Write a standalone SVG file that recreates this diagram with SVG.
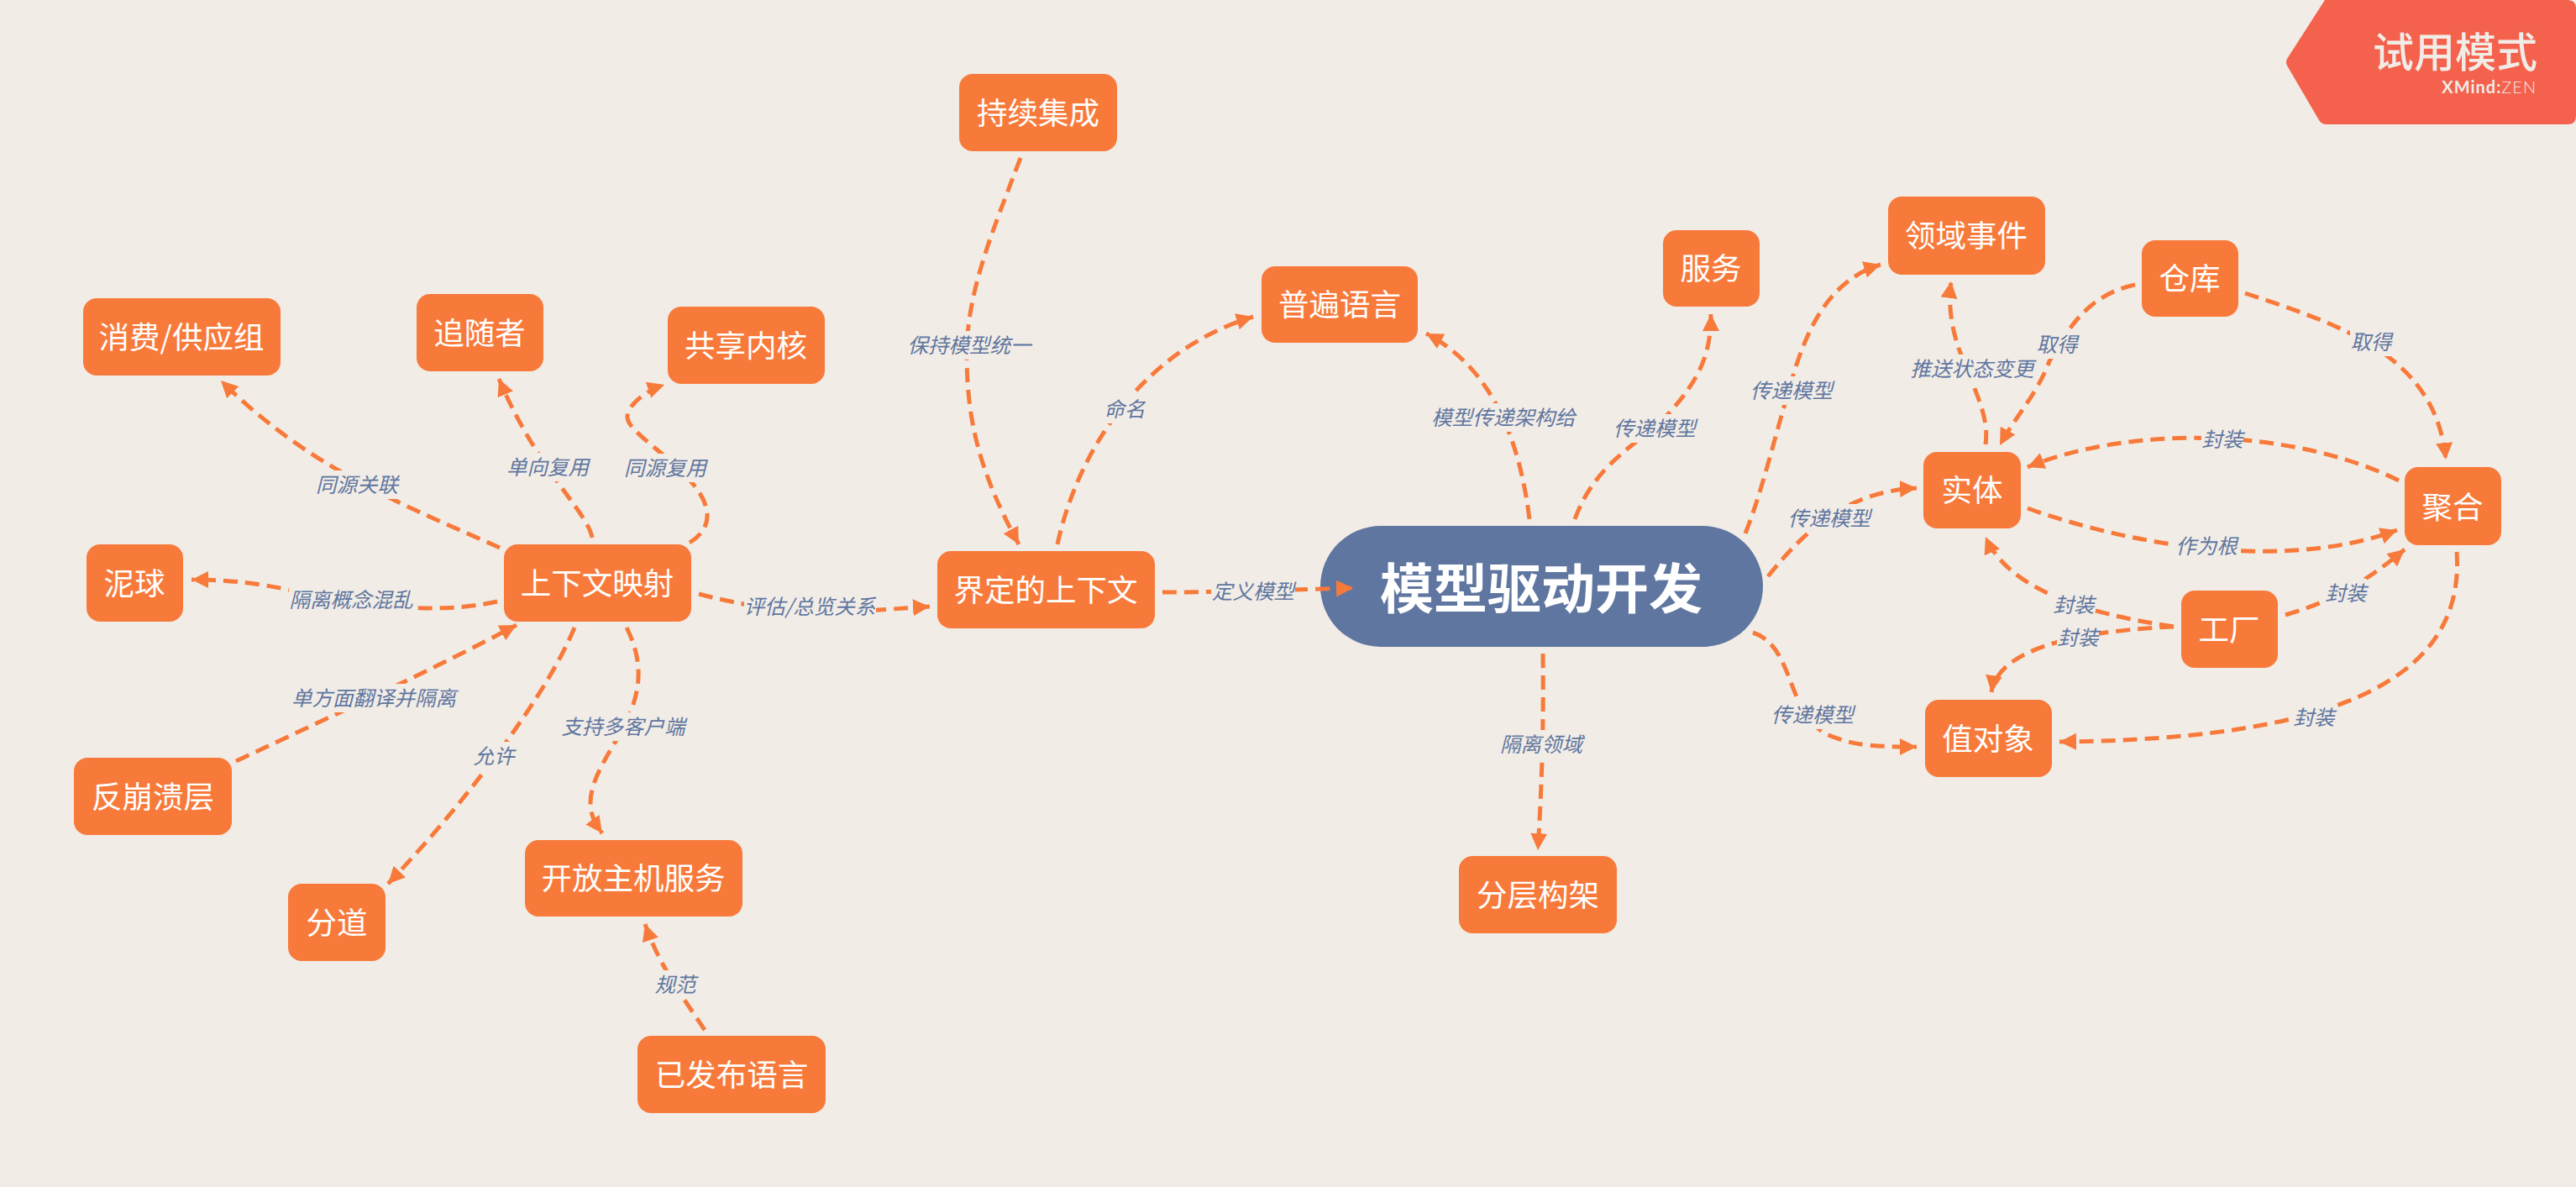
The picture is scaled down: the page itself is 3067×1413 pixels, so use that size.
<svg xmlns="http://www.w3.org/2000/svg" width="3067" height="1413" viewBox="0 0 3067 1413">
<style>
text{font-family:"Noto Sans CJK SC","Noto Sans",sans-serif;text-anchor:middle;dominant-baseline:central}
.n rect{fill:#f87a3b}
.n text{fill:#fff;font-size:36.5px;transform:translateY(-2px)}
.c{fill:none;stroke:#f87a3b;stroke-width:5;stroke-dasharray:17 9;marker-end:url(#a)}
.lb rect{fill:#f1ece6}
.lb text{fill:#5f76a0;font-size:24.5px;font-style:italic;transform:translateY(-2px)}
</style>
<defs><marker id="a" markerUnits="userSpaceOnUse" markerWidth="22" markerHeight="22" refX="20" refY="10" orient="auto"><path d="M0 0L20 10L0 20z" fill="#f87a3b"/></marker></defs>
<rect width="3067" height="1413" fill="#f1ece6"/>
<g id="badge"><path d="M2768 0H3057Q3067 0 3067 10V138Q3067 148 3057 148H2770Q2764 148 2761 143L2723 78Q2721 74 2723 70Z" fill="#f4614d"/>
<text x="2923" y="58" style="font-size:49px;fill:#f1ece6;font-weight:500">试用模式</text>
<text x="3020" y="103" style="font-family:Lato,sans-serif;font-size:20px;letter-spacing:1px;fill:#f1ece6;text-anchor:end"><tspan font-weight="700">XMind:</tspan><tspan font-weight="300">ZEN</tspan></text></g>
<g id="center"><rect x="1572" y="626" width="527" height="144" rx="72" fill="#5f76a0"/><text x="1835" y="696" style="font-size:64px;font-weight:700;fill:#fff">模型驱动开发</text></g>
<g id="n1" class="n"><rect x="1142" y="88" width="188" height="92" rx="16"/><text x="1236" y="134">持续集成</text></g>
<g id="n2" class="n"><rect x="1502" y="317" width="186" height="91" rx="16"/><text x="1595" y="362">普遍语言</text></g>
<g id="n3" class="n"><rect x="1980" y="274" width="115" height="91" rx="16"/><text x="2037" y="319">服务</text></g>
<g id="n4" class="n"><rect x="2248" y="234" width="187" height="93" rx="16"/><text x="2341" y="280">领域事件</text></g>
<g id="n5" class="n"><rect x="2550" y="286" width="115" height="91" rx="16"/><text x="2607" y="331">仓库</text></g>
<g id="n6" class="n"><rect x="2290" y="538" width="116" height="91" rx="16"/><text x="2348" y="583">实体</text></g>
<g id="n7" class="n"><rect x="2863" y="556" width="115" height="93" rx="16"/><text x="2920" y="603">聚合</text></g>
<g id="n8" class="n"><rect x="2597" y="703" width="115" height="92" rx="16"/><text x="2654" y="749">工厂</text></g>
<g id="n9" class="n"><rect x="2292" y="833" width="151" height="92" rx="16"/><text x="2367" y="879">值对象</text></g>
<g id="n10" class="n"><rect x="1116" y="656" width="259" height="92" rx="16"/><text x="1245" y="702">界定的上下文</text></g>
<g id="n11" class="n"><rect x="600" y="648" width="223" height="92" rx="16"/><text x="711" y="694">上下文映射</text></g>
<g id="n12" class="n"><rect x="103" y="648" width="115" height="92" rx="16"/><text x="160" y="694">泥球</text></g>
<g id="n13" class="n"><rect x="99" y="355" width="235" height="92" rx="16"/><text x="216" y="401">消费/供应组</text></g>
<g id="n14" class="n"><rect x="496" y="350" width="151" height="92" rx="16"/><text x="571" y="396">追随者</text></g>
<g id="n15" class="n"><rect x="795" y="365" width="187" height="92" rx="16"/><text x="888" y="411">共享内核</text></g>
<g id="n16" class="n"><rect x="88" y="902" width="188" height="92" rx="16"/><text x="182" y="948">反崩溃层</text></g>
<g id="n17" class="n"><rect x="343" y="1052" width="116" height="92" rx="16"/><text x="401" y="1098">分道</text></g>
<g id="n18" class="n"><rect x="625" y="1000" width="259" height="91" rx="16"/><text x="754" y="1045">开放主机服务</text></g>
<g id="n19" class="n"><rect x="759" y="1233" width="224" height="92" rx="16"/><text x="871" y="1279">已发布语言</text></g>
<g id="n20" class="n"><rect x="1737" y="1019" width="188" height="92" rx="16"/><text x="1831" y="1065">分层构架</text></g>
<g id="connectors">
<path class="c" d="M595 652C490 605 370 560 263 453"/>
<path class="c" d="M705 640C700 610 640 560 594 451"/>
<path class="c" d="M821 646C850 628 850 600 815 565C780 530 745 510 747 495C749 480 770 465 791 458"/>
<path class="c" d="M592 716C520 732 440 722 344 702C300 693 265 690 228 690"/>
<path class="c" d="M832 707C880 720 940 730 1000 728C1040 727 1075 724 1107 722"/>
<path class="c" d="M281 906C400 850 510 800 615 744"/>
<path class="c" d="M684 747C650 830 550 960 462 1052"/>
<path class="c" d="M746 747C765 785 765 820 745 860C725 900 695 935 705 970C708 980 712 985 717 992"/>
<path class="c" d="M839 1226C815 1190 785 1150 768 1100"/>
<path class="c" d="M1215 188C1180 280 1150 350 1151 427C1152 500 1165 560 1213 648"/>
<path class="c" d="M1259 648C1280 550 1350 420 1492 377"/>
<path class="c" d="M1384 705C1460 705 1540 702 1611 700"/>
<path class="c" d="M1821 618C1810 530 1780 440 1698 397"/>
<path class="c" d="M1875 618C1900 550 1950 530 1986 493C2025 450 2037 420 2037 374"/>
<path class="c" d="M2078 635C2100 580 2115 510 2139 434C2160 370 2190 330 2239 315"/>
<path class="c" d="M2105 686C2150 630 2200 585 2282 581"/>
<path class="c" d="M2087 753C2140 770 2125 860 2185 878C2210 888 2240 889 2282 889"/>
<path class="c" d="M1837 778C1838 860 1836 930 1831 1012"/>
<path class="c" d="M2364 529C2372 470 2312 420 2323 335"/>
<path class="c" d="M2542 339C2490 350 2465 385 2440 430C2425 470 2400 495 2381 530"/>
<path class="c" d="M2673 349C2780 385 2900 420 2912 547"/>
<path class="c" d="M2856 572C2730 510 2540 505 2414 556"/>
<path class="c" d="M2414 605C2540 650 2720 680 2854 631"/>
<path class="c" d="M2588 746C2480 730 2390 700 2364 639"/>
<path class="c" d="M2588 746C2500 750 2380 765 2371 824"/>
<path class="c" d="M2721 732C2780 715 2820 690 2863 654"/>
<path class="c" d="M2925 657C2935 800 2800 880 2452 883"/>
</g>
<g id="labels" class="lb">
<rect x="375" y="560" width="100" height="34"/><text x="425" y="577">同源关联</text>
<rect x="602" y="539" width="100" height="34"/><text x="652" y="556">单向复用</text>
<rect x="742" y="540" width="100" height="34"/><text x="792" y="557">同源复用</text>
<rect x="344" y="697" width="148" height="34"/><text x="418" y="714">隔离概念混乱</text>
<rect x="886" y="705" width="157" height="34"/><text x="964" y="722">评估/总览关系</text>
<rect x="347" y="814" width="196" height="34"/><text x="445" y="831">单方面翻译并隔离</text>
<rect x="563" y="883" width="50" height="34"/><text x="588" y="900">允许</text>
<rect x="668" y="848" width="148" height="34"/><text x="742" y="865">支持多客户端</text>
<rect x="779" y="1155" width="50" height="34"/><text x="804" y="1172">规范</text>
<rect x="1080" y="394" width="148" height="34"/><text x="1154" y="411">保持模型统一</text>
<rect x="1314" y="470" width="50" height="34"/><text x="1339" y="487">命名</text>
<rect x="1442" y="687" width="100" height="34"/><text x="1492" y="704">定义模型</text>
<rect x="1704" y="480" width="172" height="34"/><text x="1790" y="497">模型传递架构给</text>
<rect x="1920" y="493" width="100" height="34"/><text x="1970" y="510">传递模型</text>
<rect x="2083" y="448" width="100" height="34"/><text x="2133" y="465">传递模型</text>
<rect x="2128" y="600" width="100" height="34"/><text x="2178" y="617">传递模型</text>
<rect x="2108" y="834" width="100" height="34"/><text x="2158" y="851">传递模型</text>
<rect x="1785" y="869" width="100" height="34"/><text x="1835" y="886">隔离领域</text>
<rect x="2274" y="422" width="148" height="34"/><text x="2348" y="439">推送状态变更</text>
<rect x="2424" y="393" width="50" height="34"/><text x="2449" y="410">取得</text>
<rect x="2798" y="390" width="50" height="34"/><text x="2823" y="407">取得</text>
<rect x="2621" y="506" width="50" height="34"/><text x="2646" y="523">封装</text>
<rect x="2590" y="633" width="74" height="34"/><text x="2627" y="650">作为根</text>
<rect x="2444" y="703" width="50" height="34"/><text x="2469" y="720">封装</text>
<rect x="2449" y="742" width="50" height="34"/><text x="2474" y="759">封装</text>
<rect x="2768" y="689" width="50" height="34"/><text x="2793" y="706">封装</text>
<rect x="2730" y="837" width="50" height="34"/><text x="2755" y="854">封装</text>
</g>
</svg>
